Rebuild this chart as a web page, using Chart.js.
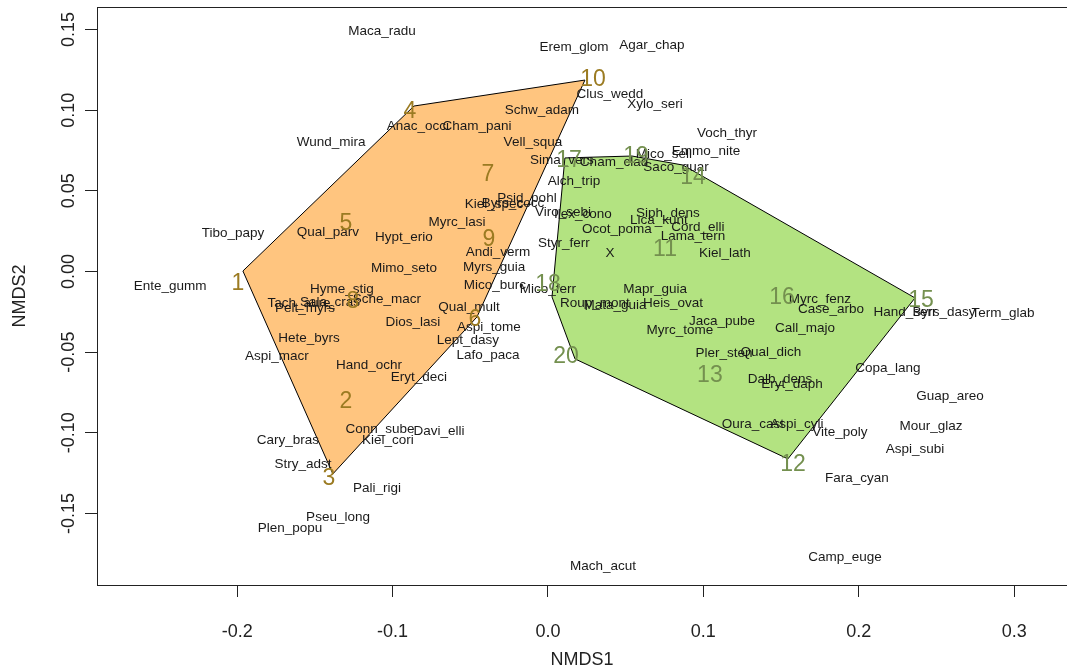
<!DOCTYPE html>
<html><head><meta charset="utf-8">
<script src="https://cdn.jsdelivr.net/npm/chart.js@4.4.1/dist/chart.umd.min.js"></script>
<style>html,body{margin:0;padding:0;background:#fff;}canvas{display:block;}</style>
</head><body>
<canvas id="c" width="1067" height="672"></canvas>
<script>
const speciesNames = ["Maca_radu","Erem_glom","Agar_chap","Clus_wedd","Xylo_seri","Wund_mira","Anac_occi","Cham_pani","Schw_adam","Vell_squa",
"Sima_vers","Cham_clad","Mico_sell","Emmo_nite","Voch_thyr","Saco_guar","Alch_trip","Psid_pohl","Kiel_spec","Byrs_cocc",
"Viro_sebi","Ilex_cono","Ocot_poma","Siph_dens","Lica_kunt","Cord_elli","Lama_tern","Kiel_lath","Styr_ferr","X",
"Mico_ferr","Roup_mont","Mata_guia","Heis_ovat","Mapr_guia","Jaca_pube","Myrc_tome","Pler_sten","Qual_dich","Dalb_dens",
"Eryt_daph","Oura_cast","Aspi_cyli","Vite_poly","Fara_cyan","Myrc_fenz","Case_arbo","Call_majo","Hand_serr","Byrs_dasy",
"Term_glab","Copa_lang","Guap_areo","Mour_glaz","Aspi_subi","Camp_euge","Mach_acut","Tibo_papy","Qual_parv","Hypt_erio",
"Myrc_lasi","Andi_verm","Myrs_guia","Mimo_seto","Ente_gumm","Hyme_stig","Sche_macr","Tach_aure","Sala_cras","Pelt_myrs",
"Dios_lasi","Qual_mult","Mico_burc","Aspi_tome","Lept_dasy","Lafo_paca","Hete_byrs","Aspi_macr","Hand_ochr","Eryt_deci",
"Conn_sube","Davi_elli","Kiel_cori","Cary_bras","Stry_adst","Pali_rigi","Pseu_long","Plen_popu"];
const speciesX = [-0.1068,0.0167,0.0669,0.0399,0.0689,-0.1396,-0.0837,-0.0457,-0.0039,-0.0097,
0.0090,0.0425,0.0746,0.1017,0.1152,0.0824,0.0167,-0.0135,-0.0347,-0.0225,
0.0097,0.0225,0.0444,0.0772,0.0714,0.0965,0.0933,0.1139,0.0103,0.0399,
0.0000,0.0302,0.0431,0.0804,0.0689,0.1120,0.0849,0.1133,0.1435,0.1493,
0.1570,0.1319,0.1602,0.1879,0.1988,0.1750,0.1821,0.1654,0.2297,0.2548,
0.2928,0.2188,0.2587,0.2465,0.2362,0.1911,0.0354,-0.2027,-0.1416,-0.0927,
-0.0586,-0.0322,-0.0347,-0.0927,-0.2432,-0.1326,-0.1036,-0.1602,-0.1403,-0.1564,
-0.0869,-0.0508,-0.0341,-0.0380,-0.0515,-0.0386,-0.1538,-0.1744,-0.1152,-0.0830,
-0.1081,-0.0701,-0.1030,-0.1673,-0.1577,-0.1100,-0.1351,-0.1660];
const speciesY = [0.1491,0.1392,0.1404,0.1100,0.1038,0.0803,0.0902,0.0902,0.1001,0.0803,
0.0691,0.0679,0.0728,0.0747,0.0859,0.0648,0.0561,0.0456,0.0418,0.0425,
0.0369,0.0356,0.0263,0.0363,0.0319,0.0276,0.0220,0.0115,0.0177,0.0115,
-0.0108,-0.0195,-0.0208,-0.0195,-0.0108,-0.0307,-0.0363,-0.0505,-0.0499,-0.0666,
-0.0697,-0.0945,-0.0945,-0.0995,-0.1280,-0.0170,-0.0232,-0.0350,-0.0251,-0.0251,
-0.0257,-0.0598,-0.0772,-0.0958,-0.1100,-0.1770,-0.1826,0.0239,0.0245,0.0214,
0.0307,0.0121,0.0028,0.0022,-0.0090,-0.0108,-0.0170,-0.0195,-0.0189,-0.0226,
-0.0313,-0.0220,-0.0084,-0.0344,-0.0425,-0.0518,-0.0412,-0.0524,-0.0580,-0.0654,
-0.0976,-0.0989,-0.1045,-0.1045,-0.1193,-0.1342,-0.1522,-0.1590];

const siteNames = ["1","2","3","4","5","6","7","8","9","10","11","12","13","14","15","16","17","18","19","20"];
const siteX = [-0.1995,-0.1300,-0.1409,-0.0888,-0.1300,-0.0470,-0.0386,-0.1255,-0.0380,0.0290,
0.0753,0.1577,0.1042,0.0933,0.2400,0.1506,0.0135,0.0000,0.0566,0.0116];
const siteY = [-0.0078,-0.0809,-0.1286,0.0989,0.0294,-0.0301,0.0598,-0.0189,0.0195,0.1187,
0.0133,-0.1200,-0.0648,0.0580,-0.0183,-0.0164,0.0685,-0.0084,0.0710,-0.0530];
const siteGroup = [0,0,0,0,0,0,0,0,0,0,1,1,1,1,1,1,1,1,1,1];

const hullAX = [-0.1963,-0.0862,0.0238,-0.0457,-0.1384];
const hullAY = [0.0003,0.1026,0.1187,-0.0282,-0.1255];
const hullBX = [0.0109,0.0541,0.0869,0.2362,0.1544,0.0174,0.0026];
const hullBY = [0.0704,0.0716,0.0660,-0.0164,-0.1162,-0.0542,-0.0158];

const xTicks = [-0.2,-0.1,0.0,0.1,0.2,0.3];
const yTicks = [-0.15,-0.10,-0.05,0.00,0.05,0.10,0.15];
const xLimits = [-0.2902, 0.3340];
const yLimits = [-0.1944, 0.1640];

const FONT = "'Liberation Sans', Arial, sans-serif";
const groupFill = ['rgba(255,140,0,0.5)','rgba(104,200,4,0.5)'];
const groupText = ['#9B7B22','#74904F'];

function pts(xs, ys, close){
  const p = xs.map((x,i)=>({x:x, y:ys[i]}));
  if (close) p.push({x:xs[0], y:ys[0]});
  return p;
}

const labelPlugin = {
  id:'labels',
  afterDatasetsDraw(chart){
    const ctx = chart.ctx;
    const ca = chart.chartArea;
    ctx.save();
    ctx.beginPath();
    ctx.rect(ca.left, ca.top, ca.right-ca.left, ca.bottom-ca.top);
    ctx.clip();
    ctx.textAlign='center';
    ctx.textBaseline='middle';
    const sMeta = chart.getDatasetMeta(2);
    ctx.font = '13.5px ' + FONT;
    ctx.fillStyle = '#1a1a1a';
    sMeta.data.forEach((el,i)=>{ ctx.fillText(speciesNames[i], el.x, el.y); });
    const tMeta = chart.getDatasetMeta(3);
    ctx.font = '23px ' + FONT;
    tMeta.data.forEach((el,i)=>{
      ctx.fillStyle = groupText[siteGroup[i]];
      ctx.fillText(siteNames[i], el.x, el.y);
    });
    ctx.restore();
    ctx.save();
    ctx.strokeStyle='#222';
    ctx.lineWidth=1;
    ctx.strokeRect(Math.round(ca.left)+0.5, Math.round(ca.top)+0.5, ca.right-ca.left, ca.bottom-ca.top);
    ctx.restore();
  }
};

new Chart(document.getElementById('c'), {
  type:'scatter',
  data:{datasets:[
    {data:pts(hullAX,hullAY,true), showLine:true, fill:'shape', backgroundColor:groupFill[0], borderColor:'#000', borderWidth:1, pointRadius:0, tension:0},
    {data:pts(hullBX,hullBY,true), showLine:true, fill:'shape', backgroundColor:groupFill[1], borderColor:'#000', borderWidth:1, pointRadius:0, tension:0},
    {data:pts(speciesX,speciesY,false), pointRadius:0, showLine:false},
    {data:pts(siteX,siteY,false), pointRadius:0, showLine:false}
  ]},
  options:{
    responsive:false, animation:false, events:[],
    layout:{padding:{top:7,right:0,bottom:0,left:0}},
    plugins:{legend:{display:false}, tooltip:{enabled:false}},
    scales:{
      x:{type:'linear', min:xLimits[0], max:xLimits[1],
        afterBuildTicks(s){ s.ticks = xTicks.map(v=>({value:v})); },
        afterFit(s){ s.height = 87; s.paddingLeft=0; s.paddingRight=0; s.paddingTop=0; s.paddingBottom=0; },
        grid:{drawOnChartArea:false, drawTicks:true, tickLength:12, color:'#222', lineWidth:1},
        border:{display:false},
        ticks:{font:{size:18, family:FONT}, color:'#222', padding:24, maxRotation:0, minRotation:0,
          callback:(v)=>Number(v).toFixed(1)},
        title:{display:true, text:'NMDS1', font:{size:18, family:FONT}, color:'#222', padding:{top:0,bottom:1}}
      },
      y:{type:'linear', min:yLimits[0], max:yLimits[1],
        afterBuildTicks(s){ s.ticks = yTicks.map(v=>({value:v})); },
        afterFit(s){ s.width = 97; s.paddingLeft=0; s.paddingRight=0; s.paddingTop=0; s.paddingBottom=0; },
        grid:{drawOnChartArea:false, drawTicks:true, tickLength:12, color:'#222', lineWidth:1},
        border:{display:false},
        ticks:{font:{size:18, family:FONT}, color:'#222', padding:-5, minRotation:90, maxRotation:90, crossAlign:'center',
          callback:(v)=>Number(v).toFixed(2)},
        title:{display:true, text:'NMDS2', font:{size:18, family:FONT}, color:'#222', padding:{top:9,bottom:0}}
      }
    }
  },
  plugins:[labelPlugin]
});
</script>
</body></html>
